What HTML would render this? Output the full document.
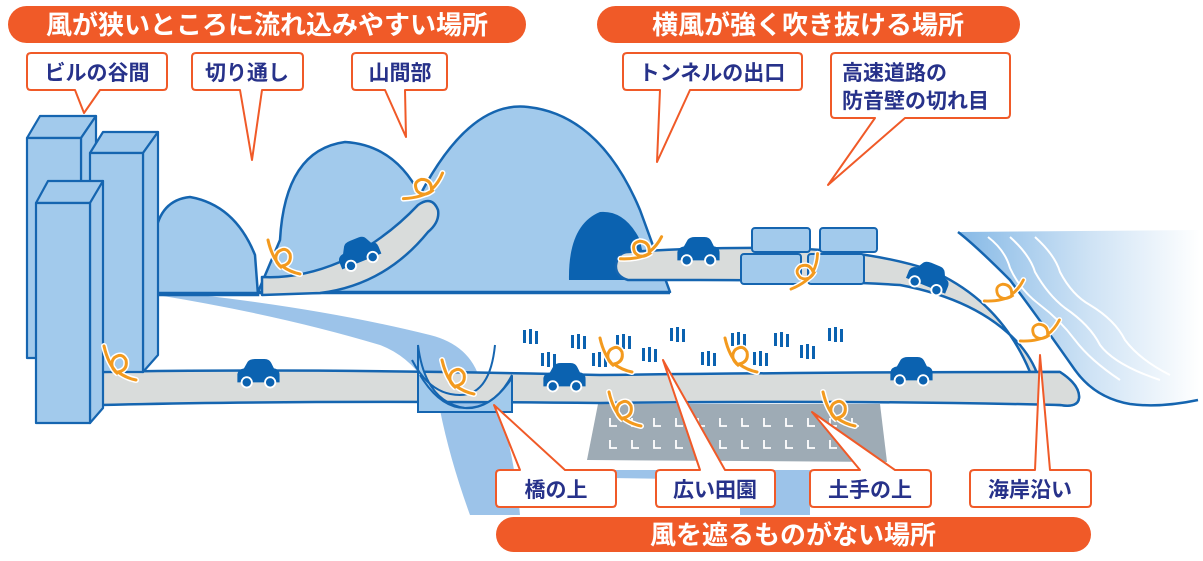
<!DOCTYPE html>
<html><head><meta charset="utf-8"><style>
html,body{margin:0;padding:0;background:#fff;}
svg{display:block;}
text{font-family:"Liberation Sans","Noto Sans CJK JP",sans-serif;font-weight:bold;}
</style></head><body>
<svg width="1203" height="561" viewBox="0 0 1203 561" xmlns="http://www.w3.org/2000/svg">
<defs>
<linearGradient id="sea" x1="0" x2="1" y1="0" y2="0">
<stop offset="0" stop-color="#86b9e6"/><stop offset="0.55" stop-color="#cfe3f5"/><stop offset="1" stop-color="#ffffff"/>
</linearGradient>
<symbol id="car" viewBox="0 0 50 32" overflow="visible">
<path d="M3 26 L3 17 Q4 12 10 11 L14 4 Q16 1 22 1 L32 1 Q37 1 39 5 L42 11 Q48 12 48 18 L48 26 Z" fill="#0b62b0"/>
<circle cx="13" cy="26" r="5.5" fill="#0b62b0" stroke="#fff" stroke-width="2"/>
<circle cx="38" cy="26" r="5.5" fill="#0b62b0" stroke="#fff" stroke-width="2"/>
</symbol>
<symbol id="sq" viewBox="0 0 40 40" overflow="visible">
<path d="M4 2 Q8 20 18 30 Q8 22 14 14 Q22 8 26 16 Q28 26 18 28 Q26 34 36 36" fill="none" stroke="#fff" stroke-width="6" stroke-linecap="round"/>
<path d="M4 2 Q8 20 18 30 Q8 22 14 14 Q22 8 26 16 Q28 26 18 28 Q26 34 36 36" fill="none" stroke="#f39a1e" stroke-width="3" stroke-linecap="round"/>
</symbol>
<symbol id="gr" viewBox="0 0 16 16" overflow="visible">
<rect x="0" y="1" width="3" height="13" fill="#0b62b0"/><rect x="6" y="0" width="3" height="15" fill="#0b62b0"/><rect x="12" y="2" width="3" height="13" fill="#0b62b0"/>
</symbol>
</defs>

<!-- river upper -->
<path d="M157 295 L200 295 Q330 310 430 335 Q470 345 480 380 L500 410 Q515 460 520 515 L470 515 Q450 460 440 410 Q420 360 380 345 Q280 315 157 295 Z" fill="#9cc3e9"/>
<path d="M560 470 L810 470 L810 515 L740 515 L740 480 L610 478 Z" fill="#9cc3e9"/>

<!-- sea -->
<path d="M958 232 L1200 230 L1200 400 Q1160 408 1130 404 Q1095 398 1075 370 Q1040 320 1010 280 Q975 245 958 232 Z" fill="url(#sea)"/>
<path d="M958 232 Q975 245 1010 280 Q1040 320 1075 370 Q1095 398 1130 404 Q1160 408 1198 400" fill="none" stroke="#1565b0" stroke-width="2.5"/>
<g fill="none" stroke="#fff" stroke-width="2">
<path d="M988 237 Q1005 250 1010 268 Q1020 290 1040 305 Q1060 320 1075 340 Q1090 360 1120 380"/>
<path d="M1010 237 Q1030 255 1035 272 Q1048 295 1065 308 Q1090 325 1100 345 Q1115 365 1160 380"/>
<path d="M1035 237 Q1055 255 1060 272 Q1072 295 1090 305 Q1115 320 1125 340 Q1140 360 1170 375"/>
</g>

<!-- farm -->
<path d="M598 404 L880 404 L887 462 L587 460 Z" fill="#9eabb5"/>
<g fill="none" stroke="#fff" stroke-width="1.8">
<path d="M610 418v8h7 M632 418v8h7 M654 418v8h7 M676 418v8h7 M698 418v8h7 M720 418v8h7 M742 418v8h7 M764 418v8h7 M786 418v8h7 M808 418v8h7 M830 418v8h7 M852 418v8h7
M610 440v8h7 M632 440v8h7 M654 440v8h7 M676 440v8h7 M698 440v8h7 M720 440v8h7 M742 440v8h7 M764 440v8h7 M786 440v8h7 M808 440v8h7 M830 440v8h7 M852 440v8h7"/>
</g>

<!-- mountains -->
<path d="M155 295 L155 235 Q160 200 190 197 Q235 205 255 255 L258 295 Z" fill="#a2caec" stroke="#1565b0" stroke-width="2.5"/>
<path d="M670 292 L568 292 L258 292 L280 240 Q285 150 345 142 Q395 145 420 195 Q470 100 528 107 Q600 115 640 210 Z" fill="#a2caec" stroke="#1565b0" stroke-width="2.5" stroke-linejoin="round"/>
<path d="M155 293 L670 293" stroke="#1565b0" stroke-width="2.5"/>
<path d="M569 280 Q568 225 600 212 Q625 210 640 240 L648 280 Z" fill="#0b62b0"/>

<!-- upper road 1 -->
<path d="M262 277 Q300 279 340 262 Q385 240 418 205 Q432 195 438 210 Q440 222 428 232 Q385 285 320 293 L262 295 Z" fill="#d9dcdb" stroke="#1565b0" stroke-width="2.5" stroke-linejoin="round"/>

<!-- upper road 2 -->
<path d="M628 252 Q700 247 780 248 Q870 250 930 270 Q1000 300 1030 372 L1060 372 Q1080 385 1079 398 Q1078 408 1060 405 L1040 404 Q1045 375 1020 345 Q980 300 900 285 Q820 280 700 280 L628 280 Q615 276 616 265 Q618 252 628 252 Z" fill="#d9dcdb" stroke="#1565b0" stroke-width="2.5" stroke-linejoin="round"/>
<g fill="#a2caec" stroke="#1565b0" stroke-width="2">
<rect x="752" y="228" width="58" height="24" rx="3"/>
<rect x="820" y="228" width="57" height="24" rx="3"/>
<rect x="741" y="254" width="60" height="30" rx="3"/>
<rect x="808" y="254" width="56" height="30" rx="3"/>
</g>

<!-- lower road -->
<path d="M100 372 Q300 368 600 375 Q850 372 1040 372 L1060 372 Q1080 385 1079 398 Q1078 408 1060 405 Q850 400 600 403 Q300 400 100 405 Z" fill="#d9dcdb" stroke="#1565b0" stroke-width="2.5" stroke-linejoin="round"/>

<!-- bridge -->
<path d="M418 345 L418 412 L512 412 L512 378 Q490 410 465 408 Q425 402 418 345 Z" fill="#a2caec" stroke="#1565b0" stroke-width="2"/>
<path d="M412 360 Q430 395 460 395 Q490 395 495 345" fill="none" stroke="#1565b0" stroke-width="2"/>
<path d="M420 375 Q440 408 465 408 Q495 408 512 375" fill="none" stroke="#1565b0" stroke-width="2"/>

<!-- buildings -->
<g fill="#a2caec" stroke="#1565b0" stroke-width="2.2" stroke-linejoin="round">
<path d="M27 138 L40 116 L96 116 L81 138 Z"/><path d="M81 138 L96 116 L96 345 L81 358 Z"/><rect x="27" y="138" width="54" height="220"/>
<path d="M90 153 L103 132 L158 132 L143 153 Z"/><path d="M143 153 L158 132 L158 355 L143 372 Z"/><rect x="90" y="153" width="53" height="219"/>
<path d="M36 203 L48 181 L103 181 L90 203 Z"/><path d="M90 203 L103 181 L103 408 L90 423 Z"/><rect x="36" y="203" width="54" height="220"/>
</g>

<!-- grass -->
<g>
<use href="#gr" x="523" y="329" width="16" height="16"/><use href="#gr" x="541" y="352" width="16" height="16"/>
<use href="#gr" x="571" y="334" width="16" height="16"/><use href="#gr" x="592" y="352" width="16" height="16"/>
<use href="#gr" x="616" y="334" width="16" height="16"/><use href="#gr" x="642" y="347" width="16" height="16"/>
<use href="#gr" x="670" y="327" width="16" height="16"/><use href="#gr" x="701" y="351" width="16" height="16"/>
<use href="#gr" x="731" y="332" width="16" height="16"/><use href="#gr" x="753" y="351" width="16" height="16"/>
<use href="#gr" x="774" y="332" width="16" height="16"/><use href="#gr" x="800" y="344" width="16" height="16"/>
<use href="#gr" x="828" y="327" width="16" height="16"/>
</g>

<!-- cars -->
<use href="#car" x="234" y="358" width="48" height="30"/>
<use href="#car" x="540" y="362" width="48" height="30"/>
<use href="#car" x="674" y="236" width="48" height="30"/>
<use href="#car" x="887" y="356" width="48" height="30"/>
<g transform="translate(330 248) rotate(-22)"><use href="#car" x="0" y="0" width="48" height="30"/></g>
<g transform="translate(912 254) rotate(22)"><use href="#car" x="0" y="0" width="48" height="30"/></g>

<!-- squiggles -->
<use href="#sq" x="100" y="344" width="40" height="40"/>
<use href="#sq" x="264" y="238" width="40" height="40"/>
<g transform="translate(404 166) rotate(-80 20 20)"><use href="#sq" width="40" height="40"/></g>
<use href="#sq" x="438" y="358" width="40" height="40"/>
<g transform="translate(622 228) rotate(-75 20 20)"><use href="#sq" width="40" height="40"/></g>
<g transform="translate(786 250) rotate(-100 20 20)"><use href="#sq" width="38" height="38"/></g>
<g transform="translate(986 270) rotate(-75 20 20)"><use href="#sq" width="38" height="38"/></g>
<g transform="translate(1022 310) rotate(-75 20 20)"><use href="#sq" width="38" height="38"/></g>
<use href="#sq" x="596" y="336" width="40" height="40"/>
<use href="#sq" x="605" y="390" width="40" height="40"/>
<use href="#sq" x="721" y="336" width="40" height="40"/>
<use href="#sq" x="819" y="390" width="40" height="40"/>

<!-- callouts -->
<g fill="#fff" stroke="#f05a28" stroke-width="2" stroke-linejoin="round">
<path d="M31 53 H163 Q167 53 167 57 V86 Q167 90 163 90 H100 L84 113 L75 90 H31 Q27 90 27 86 V57 Q27 53 31 53 Z"/>
<path d="M196 53 H299 Q303 53 303 57 V86 Q303 90 299 90 H262 L252 160 L240 90 H196 Q192 90 192 86 V57 Q192 53 196 53 Z"/>
<path d="M356 53 H443 Q447 53 447 57 V86 Q447 90 443 90 H405 L406 137 L385 90 H356 Q352 90 352 86 V57 Q352 53 356 53 Z"/>
<path d="M627 53 H798 Q802 53 802 57 V86 Q802 90 798 90 H690 L657 162 L660 90 H627 Q623 90 623 86 V57 Q623 53 627 53 Z"/>
<path d="M835 53 H1006 Q1010 53 1010 57 V114 Q1010 118 1006 118 H905 L828 185 L875 118 H835 Q831 118 831 114 V57 Q831 53 835 53 Z"/>
<path d="M500 470 H520 L494 405 L565 470 H612 Q616 470 616 474 V503 Q616 507 612 507 H500 Q496 507 496 503 V474 Q496 470 500 470 Z"/>
<path d="M660 470 H700 L663 360 L725 470 H771 Q775 470 775 474 V503 Q775 507 771 507 H660 Q656 507 656 503 V474 Q656 470 660 470 Z"/>
<path d="M814 470 H860 L812 412 L895 470 H927 Q931 470 931 474 V503 Q931 507 927 507 H814 Q810 507 810 503 V474 Q810 470 814 470 Z"/>
<path d="M974 470 H1035 L1040 355 L1050 470 H1087 Q1091 470 1091 474 V503 Q1091 507 1087 507 H974 Q970 507 970 503 V474 Q970 470 974 470 Z"/>
</g>
<g fill="#27328a" font-size="21">
<text x="97" y="80" text-anchor="middle">ビルの谷間</text>
<text x="247" y="80" text-anchor="middle">切り通し</text>
<text x="400" y="80" text-anchor="middle">山間部</text>
<text x="712" y="80" text-anchor="middle">トンネルの出口</text>
<text x="842" y="80">高速道路の</text>
<text x="842" y="108">防音壁の切れ目</text>
<text x="556" y="497" text-anchor="middle">橋の上</text>
<text x="715" y="497" text-anchor="middle">広い田園</text>
<text x="870" y="497" text-anchor="middle">土手の上</text>
<text x="1030" y="497" text-anchor="middle">海岸沿い</text>
</g>

<!-- header pills -->
<rect x="8" y="6" width="518" height="37" rx="18.5" fill="#f05a28"/>
<rect x="597" y="6" width="423" height="37" rx="18.5" fill="#f05a28"/>
<rect x="496" y="517" width="595" height="35" rx="17.5" fill="#f05a28"/>
<g fill="#fff" font-size="26">
<text x="267" y="34" text-anchor="middle">風が狭いところに流れ込みやすい場所</text>
<text x="808" y="34" text-anchor="middle">横風が強く吹き抜ける場所</text>
<text x="793" y="544" text-anchor="middle">風を遮るものがない場所</text>
</g>
</svg>
</body></html>
